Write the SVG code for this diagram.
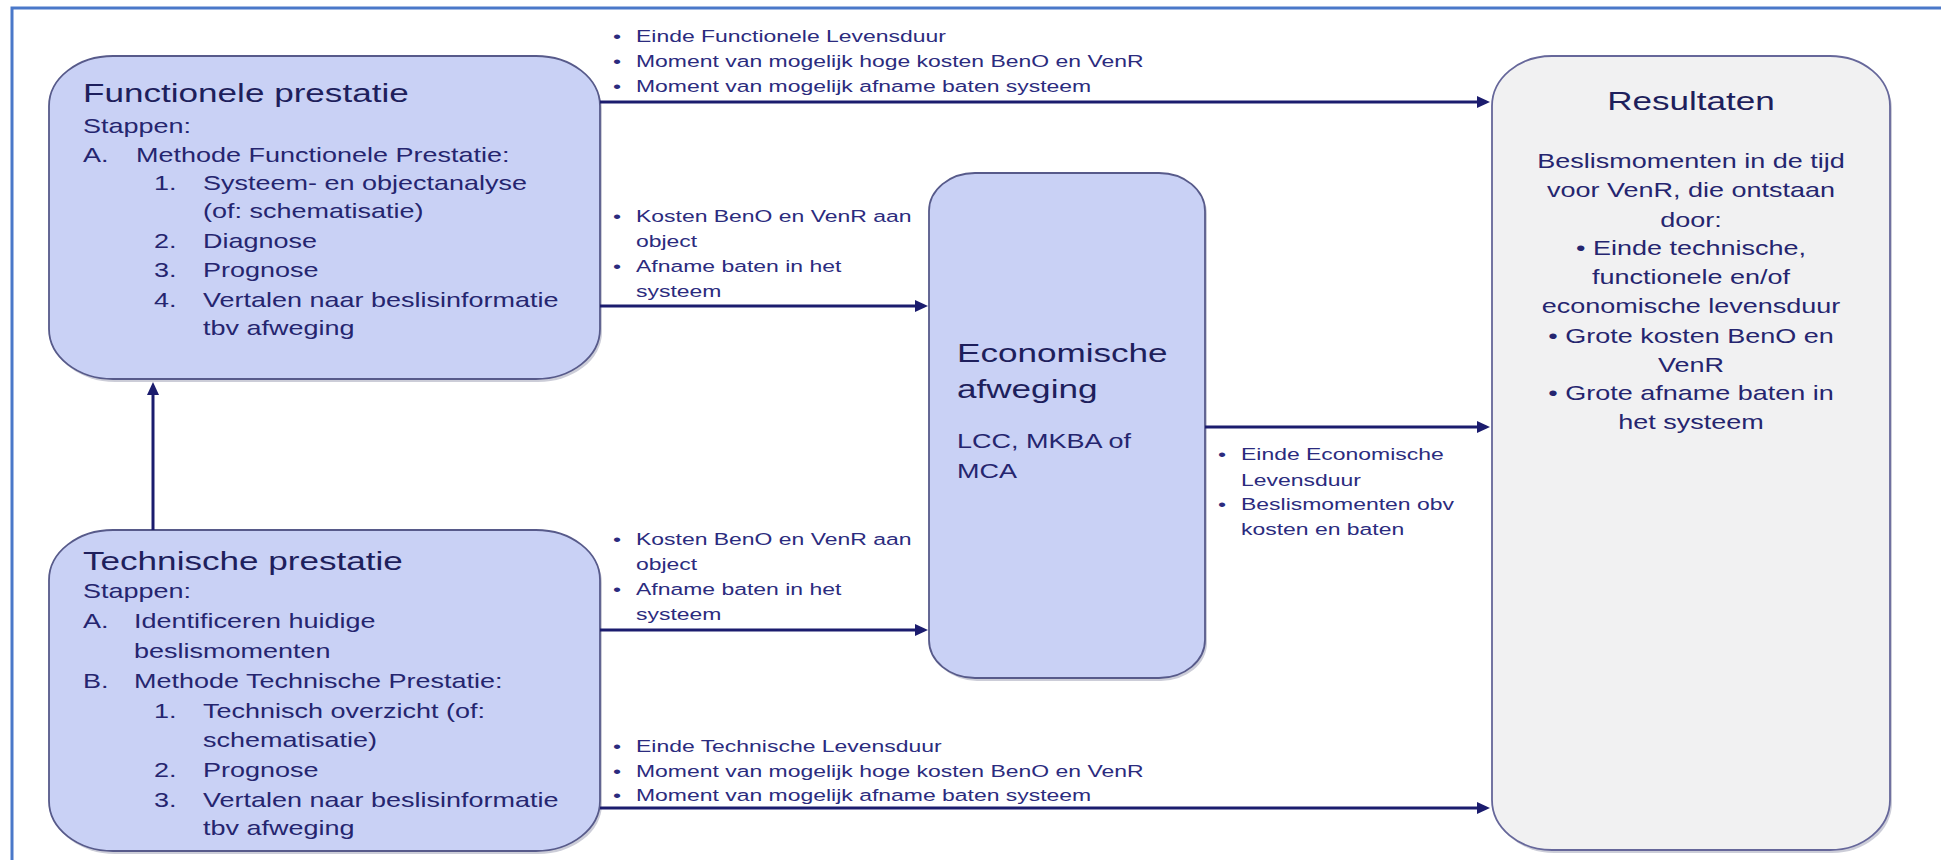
<svg xmlns="http://www.w3.org/2000/svg" width="1941" height="860" viewBox="0 0 1941 860">
<style>
  .node { fill: #C9D1F5; stroke: #575A8A; stroke-width: 1.8; }
  .res { fill: #F1F1F2; stroke: #66679A; stroke-width: 1.8; }
  .shadow { fill: #8E90A8; opacity: 0.45; }
  text { font-family: "Liberation Sans", Arial, sans-serif; fill: #25256F; }
  .title { font-size: 26px; fill: #1E1F5C; }
  .body { font-size: 20px; }
  .lbl { font-size: 17px; fill: #2B2B7E; }
  .conn { fill: none; stroke: #1B1C6E; stroke-width: 3; }
  .frame { fill: none; stroke: #4A78C9; stroke-width: 3; }
</style>
<defs>
  <marker id="arr" markerWidth="14" markerHeight="12" refX="3" refY="6" orient="auto" markerUnits="userSpaceOnUse">
    <path d="M0,0 L13,6 L0,12 z" fill="#1B1C6E"/>
  </marker>
</defs>
<rect x="0" y="0" width="1941" height="860" fill="#FFFFFF"/>
<path class="frame" d="M12,860 V8 H1941"/>

<g id="functionele">
  <rect class="shadow" x="51" y="59" width="551" height="323" rx="64" ry="50"/>
  <rect class="node" x="49" y="56" width="551" height="323" rx="64" ry="50"/>
  <g transform="translate(83 0) scale(1.35 1)">
    <text class="title" x="0" y="102">Functionele prestatie</text>
    <text class="body" x="0" y="133">Stappen:</text>
    <text class="body" x="0" y="162">A.</text>
    <text class="body" x="39.3" y="162">Methode Functionele Prestatie:</text>
    <text class="body" x="52.6" y="190">1.</text>
    <text class="body" x="88.9" y="190">Systeem- en objectanalyse</text>
    <text class="body" x="88.9" y="218">(of: schematisatie)</text>
    <text class="body" x="52.6" y="248">2.</text>
    <text class="body" x="88.9" y="248">Diagnose</text>
    <text class="body" x="52.6" y="277">3.</text>
    <text class="body" x="88.9" y="277">Prognose</text>
    <text class="body" x="52.6" y="307">4.</text>
    <text class="body" x="88.9" y="307">Vertalen naar beslisinformatie</text>
    <text class="body" x="88.9" y="335">tbv afweging</text>
  </g>
</g>

<g id="technische">
  <rect class="shadow" x="51" y="533" width="551" height="321" rx="64" ry="50"/>
  <rect class="node" x="49" y="530" width="551" height="321" rx="64" ry="50"/>
  <g transform="translate(83 0) scale(1.35 1)">
    <text class="title" x="0" y="570">Technische prestatie</text>
    <text class="body" x="0" y="598">Stappen:</text>
    <text class="body" x="0" y="628">A.</text>
    <text class="body" x="37.8" y="628">Identificeren huidige</text>
    <text class="body" x="37.8" y="658">beslismomenten</text>
    <text class="body" x="0" y="688">B.</text>
    <text class="body" x="37.8" y="688">Methode Technische Prestatie:</text>
    <text class="body" x="52.6" y="718">1.</text>
    <text class="body" x="88.9" y="718">Technisch overzicht (of:</text>
    <text class="body" x="88.9" y="747">schematisatie)</text>
    <text class="body" x="52.6" y="777">2.</text>
    <text class="body" x="88.9" y="777">Prognose</text>
    <text class="body" x="52.6" y="807">3.</text>
    <text class="body" x="88.9" y="807">Vertalen naar beslisinformatie</text>
    <text class="body" x="88.9" y="835">tbv afweging</text>
  </g>
</g>

<g id="economische">
  <rect class="shadow" x="931" y="176" width="276" height="505" rx="46" ry="38"/>
  <rect class="node" x="929" y="173" width="276" height="505" rx="46" ry="38"/>
  <g transform="translate(957 0) scale(1.35 1)">
    <text class="title" x="0" y="362">Economische</text>
    <text class="title" x="0" y="398">afweging</text>
    <text class="body" x="0" y="448">LCC, MKBA of</text>
    <text class="body" x="0" y="478">MCA</text>
  </g>
</g>

<g id="resultaten">
  <rect class="shadow" x="1494" y="59" width="398" height="794" rx="60" ry="50"/>
  <rect class="res" x="1492" y="56" width="398" height="794" rx="60" ry="50"/>
  <g transform="translate(1691 0) scale(1.35 1)" text-anchor="middle">
    <text class="title" x="0" y="110">Resultaten</text>
    <text class="body" x="0" y="168">Beslismomenten in de tijd</text>
    <text class="body" x="0" y="197">voor VenR, die ontstaan</text>
    <text class="body" x="0" y="227">door:</text>
    <text class="body" x="0" y="255">• Einde technische,</text>
    <text class="body" x="0" y="284">functionele en/of</text>
    <text class="body" x="0" y="313">economische levensduur</text>
    <text class="body" x="0" y="343">• Grote kosten BenO en</text>
    <text class="body" x="0" y="372">VenR</text>
    <text class="body" x="0" y="400">• Grote afname baten in</text>
    <text class="body" x="0" y="429">het systeem</text>
  </g>
</g>

<g id="connectors">
  <path class="conn" d="M600,102 H1480" marker-end="url(#arr)"/>
  <path class="conn" d="M600,306 H918" marker-end="url(#arr)"/>
  <path class="conn" d="M600,630 H918" marker-end="url(#arr)"/>
  <path class="conn" d="M600,808 H1480" marker-end="url(#arr)"/>
  <path class="conn" d="M1205,427 H1480" marker-end="url(#arr)"/>
  <path class="conn" d="M153,530 V392" marker-end="url(#arr)"/>

  <g transform="translate(636 0) scale(1.35 1)">
    <text class="lbl" x="-17" y="42">•</text>
    <text class="lbl" x="0" y="42">Einde Functionele Levensduur</text>
    <text class="lbl" x="-17" y="67">•</text>
    <text class="lbl" x="0" y="67">Moment van mogelijk hoge kosten BenO en VenR</text>
    <text class="lbl" x="-17" y="92">•</text>
    <text class="lbl" x="0" y="92">Moment van mogelijk afname baten systeem</text>

    <text class="lbl" x="-17" y="222">•</text>
    <text class="lbl" x="0" y="222">Kosten BenO en VenR aan</text>
    <text class="lbl" x="0" y="247">object</text>
    <text class="lbl" x="-17" y="272">•</text>
    <text class="lbl" x="0" y="272">Afname baten in het</text>
    <text class="lbl" x="0" y="297">systeem</text>

    <text class="lbl" x="-17" y="545">•</text>
    <text class="lbl" x="0" y="545">Kosten BenO en VenR aan</text>
    <text class="lbl" x="0" y="570">object</text>
    <text class="lbl" x="-17" y="595">•</text>
    <text class="lbl" x="0" y="595">Afname baten in het</text>
    <text class="lbl" x="0" y="620">systeem</text>

    <text class="lbl" x="-17" y="752">•</text>
    <text class="lbl" x="0" y="752">Einde Technische Levensduur</text>
    <text class="lbl" x="-17" y="777">•</text>
    <text class="lbl" x="0" y="777">Moment van mogelijk hoge kosten BenO en VenR</text>
    <text class="lbl" x="-17" y="801">•</text>
    <text class="lbl" x="0" y="801">Moment van mogelijk afname baten systeem</text>
  </g>
  <g transform="translate(1241 0) scale(1.35 1)">
    <text class="lbl" x="-17" y="460">•</text>
    <text class="lbl" x="0" y="460">Einde Economische</text>
    <text class="lbl" x="0" y="486">Levensduur</text>
    <text class="lbl" x="-17" y="510">•</text>
    <text class="lbl" x="0" y="510">Beslismomenten obv</text>
    <text class="lbl" x="0" y="535">kosten en baten</text>
  </g>
</g>
</svg>
